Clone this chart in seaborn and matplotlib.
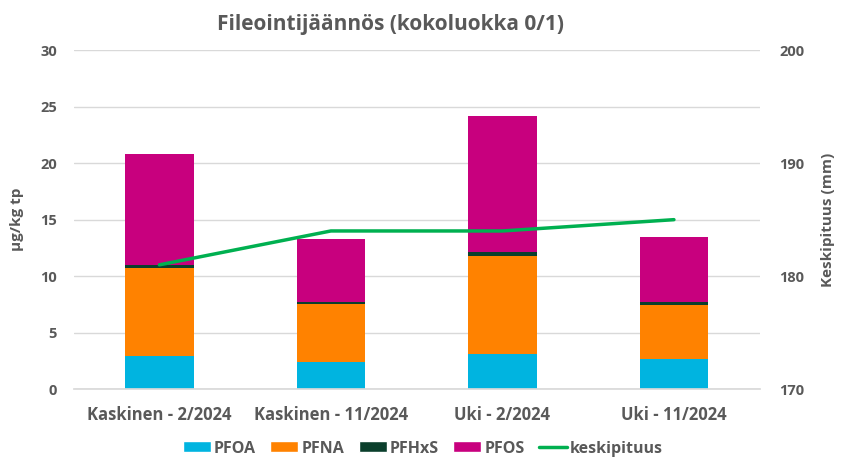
import numpy as np
import pandas as pd
import matplotlib
matplotlib.use("Agg")
import matplotlib.pyplot as plt
import seaborn as sns
from matplotlib.patches import Patch
from matplotlib.lines import Line2D

categories = ["Kaskinen - 2/2024", "Kaskinen - 11/2024", "Uki - 2/2024", "Uki - 11/2024"]
pfoa = [2.9, 2.4, 3.1, 2.7]
pfna = [7.8, 5.15, 8.65, 4.75]
pfhxs = [0.3, 0.2, 0.4, 0.25]
pfos = [9.8, 5.5, 12.0, 5.75]
keskipituus = [181, 184, 184, 185]

series_names = ["PFOA", "PFNA", "PFHxS", "PFOS"]
colors = {"PFOA": "#00B4E0", "PFNA": "#FF8200", "PFHxS": "#0B3F2C", "PFOS": "#C8007E"}
line_color = "#00B050"
text_color = "#595959"

sns.set_theme(style="white")
plt.rcParams['font.family'] = ['Open Sans', 'DejaVu Sans']

fig = plt.figure(figsize=(8.46, 4.61), dpi=100)
ax = fig.add_axes([0.087, 0.156, 0.811, 0.735])

df = pd.DataFrame({"cat": categories, "PFOA": pfoa, "PFNA": pfna, "PFHxS": pfhxs, "PFOS": pfos})
cum = df[series_names].cumsum(axis=1)
# draw from top of stack down so lower layers overlay
for name in reversed(series_names):
    sns.barplot(x=df["cat"], y=cum[name], color=colors[name], width=0.4,
                saturation=1, ax=ax, order=categories, linewidth=0)

ax.set_ylim(0, 30)
ax.set_yticks(np.arange(0, 31, 5))
ax.set_xlim(-0.5, len(categories) - 0.5)
ax.yaxis.grid(True, color="#D9D9D9", linewidth=1)
ax.set_axisbelow(True)
for s in ax.spines.values():
    s.set_visible(False)
ax.spines["bottom"].set_visible(True)
ax.spines["bottom"].set_color("#D9D9D9")
ax.set_xlabel("")
ax.set_ylabel("µg/kg tp", fontsize=11, fontweight="bold", color=text_color, labelpad=12)
ax.tick_params(axis="y", length=0, labelsize=10.5, colors=text_color, pad=12)
ax.tick_params(axis="x", length=0, labelsize=12, colors=text_color, pad=12)
for lbl in ax.get_xticklabels() + ax.get_yticklabels():
    lbl.set_fontweight("bold")

ax2 = ax.twinx()
sns.lineplot(x=np.arange(len(categories)), y=keskipituus, color=line_color,
             linewidth=2.5, ax=ax2)
ax2.set_ylim(170, 200)
ax2.set_yticks(np.arange(170, 201, 10))
for s in ax2.spines.values():
    s.set_visible(False)
ax2.grid(False)
ax2.set_ylabel("Keskipituus (mm)", fontsize=11, fontweight="bold", color=text_color, labelpad=12)
ax2.tick_params(axis="y", length=0, labelsize=10.5, colors=text_color, pad=14)
for lbl in ax2.get_yticklabels():
    lbl.set_fontweight("bold")

fig.text(0.461, 0.946, "Fileointijäännös (kokoluokka 0/1)", fontsize=15, fontweight="bold",
         color=text_color, ha="center", va="center")

handles = [Patch(facecolor=colors[n], label=n) for n in series_names]
handles.append(Line2D([0], [0], color=line_color, linewidth=2.5, label="keskipituus"))
leg = fig.legend(handles=handles, loc="center", bbox_to_anchor=(0.5, 0.027), ncol=5,
                 frameon=False, prop={"family": ["Open Sans", "DejaVu Sans"], "weight": "bold", "size": 11.5},
                 handlelength=1.75, handleheight=0.68,
                 handletextpad=0.2, columnspacing=0.9)
for t in leg.get_texts():
    t.set_color(text_color)

fig.savefig("out.png", dpi=100)
